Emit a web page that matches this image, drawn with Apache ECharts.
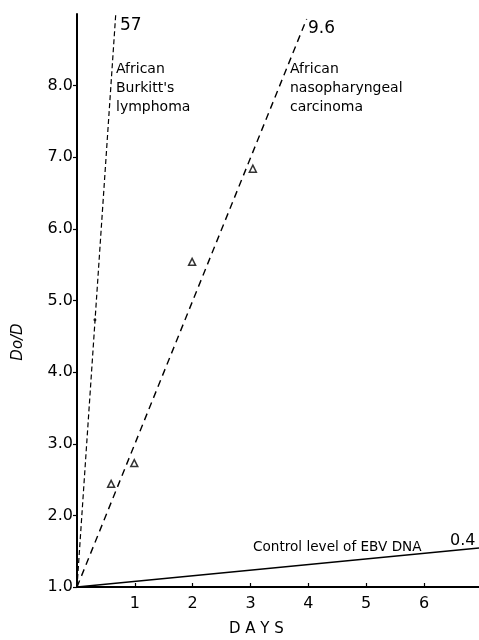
<!DOCTYPE html>
<html>
<head>
<meta charset="utf-8">
<script src="https://cdn.jsdelivr.net/npm/echarts@6/dist/echarts.min.js"></script>
<style>html,body{margin:0;padding:0;background:#fff}#c{width:479px;height:640px}</style>
</head>
<body>
<div id="c"></div>
<script>
// ---- data ----
var xTicks = [1, 2, 3, 4, 5, 6];
var yTicks = [1, 2, 3, 4, 5, 6, 7, 8];
var burkittLine = [[0, 1.0], [0.67, 9.0]];
var burkittPoint = [[0.31, 4.73]];
var npcLine = [[0, 1.0], [3.97, 8.93]];
var npcPoints = [[0.59, 2.44], [0.99, 2.73], [1.99, 5.54], [3.04, 6.84]];
var controlLine = [[0, 1.0], [6.95, 1.545]];

var FONT = 'DejaVu Sans';
var chart = echarts.init(document.getElementById('c'), null, {renderer: 'canvas'});
chart.setOption({
  backgroundColor: '#fff',
  animation: false,
  grid: {left: 77, right: 0, top: 14, bottom: 53},
  xAxis: {
    type: 'value', min: 0, max: 6.95, interval: 1,
    axisLine: {show: true, lineStyle: {color: '#000', width: 2}},
    axisTick: {show: true, inside: true, length: 4, customValues: xTicks, lineStyle: {color: '#000', width: 1.2}},
    axisLabel: {customValues: xTicks, margin: 9, color: '#000', fontFamily: FONT, fontSize: 16},
    splitLine: {show: false}
  },
  yAxis: {
    type: 'value', min: 1, max: 9, interval: 1,
    axisLine: {show: true, lineStyle: {color: '#000', width: 2}},
    axisTick: {show: true, inside: false, length: 4, customValues: yTicks, lineStyle: {color: '#000', width: 1.2}},
    axisLabel: {customValues: yTicks, margin: 4, color: '#000', fontFamily: FONT, fontSize: 16,
      formatter: function (v) { return v.toFixed(1); }},
    splitLine: {show: false}
  },
  series: [
    {type: 'line', data: burkittLine, symbol: 'none', lineStyle: {color: '#000', width: 1.2, type: [5, 3]}},
    {type: 'scatter', data: burkittPoint, symbol: 'circle', symbolSize: 3, itemStyle: {color: '#000'}},
    {type: 'line', data: npcLine, symbol: 'none', lineStyle: {color: '#000', width: 1.4, type: [7, 5]}},
    {type: 'scatter', data: npcPoints, symbol: 'triangle', symbolSize: 7,
      itemStyle: {color: '#fff', borderColor: '#000', borderWidth: 1.5}},
    {type: 'line', data: controlLine, symbol: 'none', lineStyle: {color: '#000', width: 1.6}}
  ],
  graphic: [
    {type: 'text', left: 120, top: 17, style: {text: '57', font: '17px ' + FONT, fill: '#000'}},
    {type: 'text', left: 116, top: 60, style: {text: "African\nBurkitt's\nlymphoma", font: '14px ' + FONT, lineHeight: 19, fill: '#000'}},
    {type: 'text', left: 308, top: 20, style: {text: '9.6', font: '17px ' + FONT, fill: '#000'}},
    {type: 'text', left: 290, top: 60, style: {text: "African\nnasopharyngeal\ncarcinoma", font: '14px ' + FONT, lineHeight: 19, fill: '#000'}},
    {type: 'text', left: 253, top: 540, style: {text: 'Control level of EBV DNA', font: '13.6px ' + FONT, fill: '#000'}},
    {type: 'text', left: 450, top: 533, style: {text: '0.4', font: '16px ' + FONT, fill: '#000'}},
    {type: 'text', left: 229, top: 622, style: {text: 'D A Y S', font: '15px ' + FONT, fill: '#000'}},
    {type: 'text', x: 18, y: 342, rotation: Math.PI / 2,
      style: {text: 'Do/D', font: 'italic 15px ' + FONT, fill: '#000', align: 'center', verticalAlign: 'middle'}}
  ]
});
</script>
</body>
</html>
